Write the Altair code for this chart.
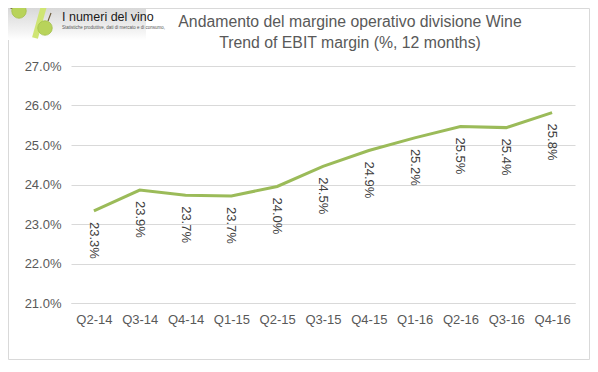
import altair as alt
import pandas as pd

# ---- data ----
quarters = ["Q2-14", "Q3-14", "Q4-14", "Q1-15", "Q2-15", "Q3-15",
            "Q4-15", "Q1-16", "Q2-16", "Q3-16", "Q4-16"]
ebit_margin = [23.33, 23.86, 23.73, 23.71, 23.95, 24.46,
               24.86, 25.18, 25.47, 25.44, 25.82]
value_labels = ["23.3%", "23.9%", "23.7%", "23.7%", "24.0%", "24.5%",
                "24.9%", "25.2%", "25.5%", "25.4%", "25.8%"]
y_ticks = [21, 22, 23, 24, 25, 26, 27]
title_lines = ["Andamento del margine operativo divisione Wine",
               "Trend of EBIT margin (%, 12 months)"]
logo_title = "I numeri del vino"
logo_subtitle = "Statistiche produttive, dati di mercato e di consumo,"

df = pd.DataFrame({"quarter": quarters, "margin": ebit_margin, "label": value_labels})

FONT = "Liberation Sans"
TEXT = "#595959"
GRID = "#d9d9d9"
GREEN = "#9bbb59"

W, H = 504, 237
PAD_L, PAD_T, PAD_R, PAD_B = 63, 58, 15, 57

base = alt.Chart(df).encode(
    x=alt.X("quarter:O", sort=quarters, title=None,
            scale=alt.Scale(type="point", padding=0.5),
            axis=alt.Axis(labelAngle=0, ticks=False, domainColor=GRID,
                          labelPadding=10, labelFontSize=13, labelColor=TEXT,
                          labelFont=FONT, grid=False)),
    y=alt.Y("margin:Q", title=None,
            scale=alt.Scale(domain=[21, 27], nice=False, zero=False),
            axis=alt.Axis(values=y_ticks, tickCount=7, domain=False, ticks=False,
                          gridColor=GRID, labelPadding=10, labelFontSize=13,
                          labelColor=TEXT, labelFont=FONT, labelOverlap=False,
                          labelExpr="format(datum.value, '.1f') + '%'")),
)

line = base.mark_line(color=GREEN, strokeWidth=3)
labels = base.mark_text(angle=90, align="left", baseline="middle", dx=11,
                        fontSize=13, font=FONT, color="#404040").encode(text="label:N")

one = alt.Data(values=[{"k": 1}])

title1 = alt.Chart(one).mark_text(align="center", baseline="alphabetic", fontSize=15.8,
                                  font=FONT, color=TEXT, text=title_lines[0]).encode(
    x=alt.value(279), y=alt.value(-39))
title2 = alt.Chart(one).mark_text(align="center", baseline="alphabetic", fontSize=15.8,
                                  font=FONT, color=TEXT, text=title_lines[1]).encode(
    x=alt.value(279), y=alt.value(-18))

border = alt.Chart(one).mark_rect(filled=False, stroke=GRID, strokeWidth=1).encode(
    x=alt.value(-PAD_L + 0.5), x2=alt.value(W + PAD_R - 0.5),
    y=alt.value(-PAD_T + 0.5), y2=alt.value(H + PAD_B - 0.5))

logo_bg = alt.Chart(one).mark_rect(color=alt.LinearGradient(
    gradient="linear", x1=0, x2=0, y1=0, y2=1,
    stops=[alt.GradientStop(color="#d8d8d8", offset=0),
           alt.GradientStop(color="#f2f2f2", offset=0.7),
           alt.GradientStop(color="#ffffff", offset=1)])).encode(
    x=alt.value(-PAD_L), x2=alt.value(75), y=alt.value(-PAD_T), y2=alt.value(-26))

# the slash of the "%" sign in the logo
slash = alt.Chart(alt.Data(values=[{"px": -36, "py": -28, "o": 0},
                                   {"px": -26, "py": -64, "o": 1}])).mark_line(
    color="#cfe574", strokeWidth=6, strokeCap="butt").encode(
    x=alt.X("px:Q", scale=None, axis=None),
    y=alt.Y("py:Q", scale=None, axis=None),
    order="o:Q")

# the two grapes that form the dots of the "%"
grapes = alt.Chart(alt.Data(values=[{"gx": -52, "gy": -55}, {"gx": -26, "gy": -38}])).mark_circle(
    color="#b8d35a", opacity=1, size=210, stroke="#a3c04a", strokeWidth=0.8).encode(
    x=alt.X("gx:Q", scale=None, axis=None),
    y=alt.Y("gy:Q", scale=None, axis=None))

stems = alt.Chart(alt.Data(values=[{"sx": -58, "sy": -57, "sx2": -66, "sy2": -61},
                                   {"sx": -23, "sy": -45, "sx2": -20, "sy2": -53}])).mark_rule(
    color="#6b5a3a", strokeWidth=1.2).encode(
    x=alt.X("sx:Q", scale=None, axis=None),
    y=alt.Y("sy:Q", scale=None, axis=None),
    x2="sx2:Q", y2="sy2:Q")

logo_t = alt.Chart(one).mark_text(align="left", baseline="alphabetic", fontSize=12.5,
                                  font=FONT, color="#1a1a1a", text=logo_title).encode(
    x=alt.value(-9), y=alt.value(-45))
logo_s = alt.Chart(one).mark_text(align="left", baseline="alphabetic", fontSize=4.5,
                                  font=FONT, color="#555555", text=logo_subtitle).encode(
    x=alt.value(-9), y=alt.value(-37))

logo = alt.layer(logo_bg, slash, stems, grapes, logo_t, logo_s).resolve_scale(
    x="independent", y="independent")

chart = alt.layer(
    alt.layer(line, labels), border, title1, title2, logo
).resolve_scale(x="independent", y="independent").properties(
    width=W, height=H,
    autosize=alt.AutoSizeParams(type="none"),
    padding={"left": PAD_L, "top": PAD_T, "right": PAD_R, "bottom": PAD_B},
    background="white",
).configure_view(stroke=None)

chart.save("out.html", embed_options={"renderer": "svg", "actions": False})
